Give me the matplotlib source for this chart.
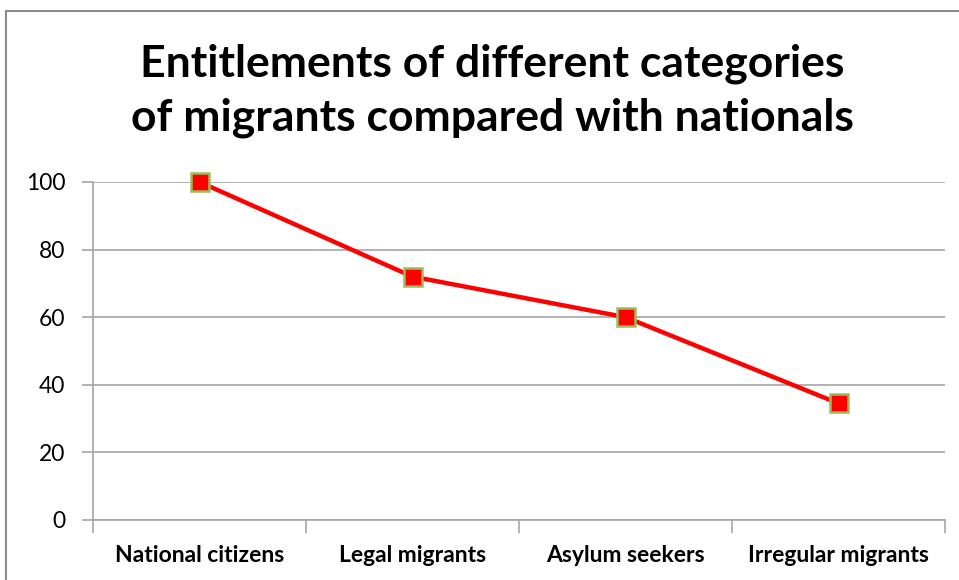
import matplotlib
matplotlib.use("Agg")
import matplotlib.pyplot as plt
from matplotlib.patches import Rectangle

categories = ["National citizens", "Legal migrants", "Asylum seekers", "Irregular migrants"]
values = [100, 72, 60, 34.5]
yticks = [0, 20, 40, 60, 80, 100]
title = "Entitlements of different categories\nof migrants compared with nationals"

W, H = 959, 580
fig = plt.figure(figsize=(W / 100, H / 100), dpi=100)
plt.rcParams['font.family'] = ['Lato', 'DejaVu Sans']

# outer border
fig.patches.append(Rectangle((5.5 / W, -0.1), 2, (H - 10.5) / H + 0.1,
                             transform=fig.transFigure, fill=False,
                             edgecolor='#8c8c8c', linewidth=1.5))

left, right, top, bottom = 93, 945, 182, 520
ax = fig.add_axes([left / W, 1 - bottom / H, (right - left) / W, (bottom - top) / H])

x = list(range(len(categories)))
ax.plot(x, values, color='#ff0000', linewidth=3.2, marker='s', markersize=13,
        markerfacecolor='#ff0000', markeredgecolor='#9bbb59', markeredgewidth=1.8,
        zorder=5, clip_on=False)

ax.set_xlim(-0.5, len(categories) - 0.5)
ax.set_ylim(0, 100)
ax.set_yticks(yticks)
ax.set_yticklabels([str(v) for v in yticks], fontsize=16.5)
ax.yaxis.grid(True, color='#a6a6a6', linewidth=1.2)
ax.set_axisbelow(True)

ax.set_xticks(x)
ax.set_xticklabels(categories, fontsize=16.5, fontweight='bold')
ax.tick_params(axis='x', length=0, pad=18)
ax.set_xticks([i - 0.5 for i in range(len(categories) + 1)], minor=True)
ax.tick_params(axis='x', which='minor', length=9, color='#a6a6a6', width=1.2)
ax.tick_params(axis='y', length=8, color='#a6a6a6', width=1.2, pad=12)

for s in ['top', 'right']:
    ax.spines[s].set_visible(False)
for s in ['left', 'bottom']:
    ax.spines[s].set_color('#a6a6a6')
    ax.spines[s].set_linewidth(1.2)

fig.text(492 / W, 1 - 91 / H, title, ha='center', va='center', fontsize=32,
         fontweight='bold', linespacing=1.4)

fig.savefig("out.png", dpi=100)
